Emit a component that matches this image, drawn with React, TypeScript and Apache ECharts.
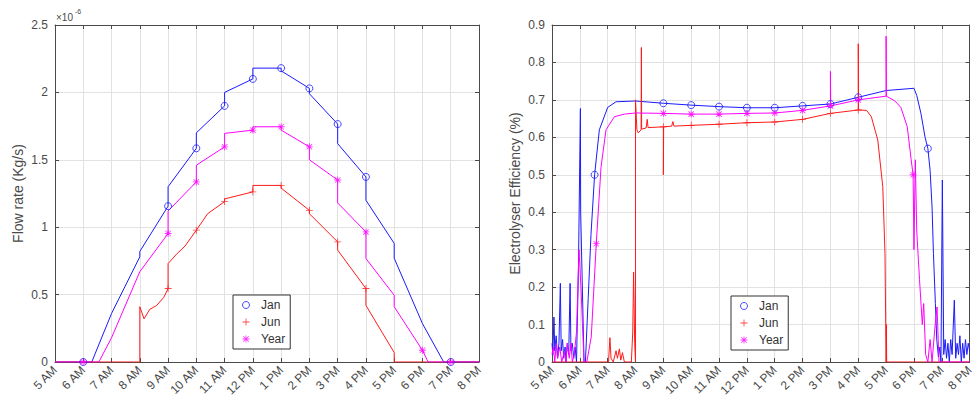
import React, { useEffect, useRef } from 'react';
import * as echarts from 'echarts';

// x axis: hours of the day (5 = 5 AM ... 20 = 8 PM)
const xTickLabels = ['5 AM', '6 AM', '7 AM', '8 AM', '9 AM', '10 AM', '11 AM', '12 PM', '1 PM', '2 PM', '3 PM', '4 PM', '5 PM', '6 PM', '7 PM', '8 PM'];
const seriesNames = ['Jan', 'Jun', 'Year'];

// Left panel: hydrogen flow rate, values in units of 1e-6 kg/s
const janFlow: [number, number][] = [
  [5, 0], [6.3, 0], [7, 0.36], [8, 0.78], [8, 0.82], [9, 1.156], [9, 1.3], [10, 1.585], [10, 1.7],
  [11, 1.9], [11, 2.0], [12, 2.1], [12, 2.18], [13, 2.18], [13, 2.16], [14, 2.03], [14, 1.99],
  [15, 1.765], [15, 1.62], [16, 1.373], [16, 1.2], [17, 0.88], [17, 0.77], [18, 0.285], [18.75, 0], [20, 0],
];
const janFlowMarkers: [number, number][] = [
  [6, 0], [9, 1.156], [10, 1.585], [11, 1.9], [12, 2.1], [13, 2.18], [14, 2.03], [15, 1.765], [16, 1.373], [19, 0],
];
const junFlow: [number, number][] = [
  [5, 0], [8, 0], [8, 0.41], [8.15, 0.32], [8.35, 0.39], [8.6, 0.42], [8.85, 0.48], [9, 0.545], [9, 0.73],
  [9.3, 0.8], [9.6, 0.86], [10, 0.978], [10.4, 1.1], [11, 1.19], [11, 1.21], [12, 1.262], [12, 1.31],
  [13, 1.31], [13, 1.29], [14, 1.125], [14, 1.1], [15, 0.891], [15, 0.83], [16, 0.545], [16, 0.42],
  [17, 0.07], [17, 0], [20, 0],
];
const junFlowMarkers: [number, number][] = [
  [9, 0.545], [10, 0.978], [11, 1.19], [12, 1.262], [13, 1.31], [14, 1.125], [15, 0.891], [16, 0.545],
];
const yearFlow: [number, number][] = [
  [5, 0], [6.55, 0], [7, 0.18], [8, 0.67], [9, 0.953], [9, 1.12], [10, 1.336], [10, 1.46], [11, 1.596],
  [11, 1.696], [12, 1.72], [12, 1.745], [13, 1.745], [13, 1.72], [14, 1.596], [14, 1.5], [15, 1.35],
  [15, 1.18], [16, 0.965], [16, 0.768], [17, 0.495], [17, 0.41], [18, 0.087], [18.2, 0], [20, 0],
];
const yearFlowMarkers: [number, number][] = [
  [6, 0], [9, 0.953], [10, 1.336], [11, 1.596], [12, 1.72], [13, 1.745], [14, 1.596], [15, 1.35], [16, 0.965], [18, 0.087], [19, 0],
];

// Right panel: electrolyser efficiency
const janEff: [number, number][] = [
  [5, 0.05], [5.03, 0.02], [5.07, 0.12], [5.1, 0.03], [5.15, 0.07], [5.2, 0.01], [5.25, 0.05], [5.3, 0.21],
  [5.33, 0.03], [5.38, 0.06], [5.42, 0.01], [5.47, 0.04], [5.5, 0], [5.55, 0.05], [5.6, 0.02], [5.65, 0.21],
  [5.68, 0.03], [5.73, 0.05], [5.78, 0.01], [5.83, 0.04], [5.88, 0], [5.95, 0.25], [6.02, 0.677], [6.03, 0.4],
  [6.15, 0], [6.2, 0], [6.3, 0.17], [6.4, 0.34], [6.53, 0.5], [6.7, 0.62], [7, 0.68], [7.3, 0.695],
  [8, 0.697], [9, 0.691], [10, 0.686], [11, 0.682], [12, 0.679], [13, 0.679], [14, 0.684], [15, 0.689],
  [16, 0.707], [17, 0.725], [18, 0.731], [18.1, 0.712], [18.25, 0.664], [18.4, 0.6], [18.5, 0.57],
  [18.58, 0.512], [18.65, 0.414], [18.7, 0.29], [18.77, 0.156], [18.82, 0.058], [18.88, 0.013], [18.93, 0.04],
  [18.97, 0], [19.02, 0.486], [19.07, 0.02], [19.12, 0.06], [19.17, 0.01], [19.22, 0.05], [19.27, 0],
  [19.32, 0.06], [19.37, 0.02], [19.45, 0.165], [19.5, 0.01], [19.55, 0.05], [19.6, 0.02], [19.65, 0.07],
  [19.7, 0], [19.75, 0.05], [19.8, 0.01], [19.85, 0.06], [19.9, 0.02], [19.95, 0.05], [20, 0.03],
];
const janEffMarkers: [number, number][] = [
  [6.53, 0.5], [9, 0.691], [10, 0.686], [11, 0.682], [12, 0.679], [13, 0.679], [14, 0.684], [15, 0.689], [16, 0.707], [18.5, 0.57],
];
const junEff: [number, number][] = [
  [5, 0], [7.03, 0], [7.08, 0.065], [7.12, 0.01], [7.2, 0], [7.3, 0.03], [7.35, 0.01], [7.42, 0.035],
  [7.47, 0.005], [7.53, 0.025], [7.6, 0], [7.85, 0], [7.9, 0.08], [7.93, 0.24], [7.97, 0.05], [8, 0],
  [8, 0.7], [8.05, 0.62], [8.1, 0.612], [8.2, 0.62], [8.21, 0.84], [8.22, 0.622], [8.38, 0.625],
  [8.42, 0.648], [8.45, 0.626], [9, 0.628], [9, 0.5], [9.01, 0.628], [9.3, 0.63], [9.34, 0.642],
  [9.38, 0.63], [10, 0.632], [11, 0.635], [12, 0.639], [13, 0.641], [14, 0.648], [15, 0.664], [16, 0.673],
  [16, 0.85], [16.01, 0.673], [16.3, 0.672], [16.47, 0.655], [16.7, 0.593], [16.88, 0.468], [16.96, 0.29],
  [17, 0], [17.01, 0.1], [17.02, 0], [20, 0],
];
const junEffMarkers: [number, number][] = [
  [9, 0.628], [10, 0.632], [11, 0.635], [12, 0.639], [13, 0.641], [14, 0.648], [15, 0.664], [16, 0.673],
];
const yearEff: [number, number][] = [
  [5, 0.02], [5.05, 0.04], [5.1, 0], [5.15, 0.05], [5.2, 0.01], [5.28, 0.04], [5.35, 0], [5.45, 0.03],
  [5.5, 0], [5.55, 0.05], [5.62, 0.01], [5.68, 0.05], [5.73, 0], [5.8, 0.02], [5.88, 0.08], [5.97, 0.3],
  [6.04, 0.2], [6.15, 0], [6.25, 0], [6.41, 0.067], [6.59, 0.316], [6.76, 0.52], [6.94, 0.62],
  [7.24, 0.655], [7.6, 0.662], [8, 0.665], [9, 0.664], [10, 0.662], [11, 0.662], [12, 0.664], [13, 0.665],
  [14, 0.672], [15, 0.684], [15, 0.776], [15.01, 0.684], [16, 0.7], [17, 0.71], [17, 0.87], [17.01, 0.71],
  [17.3, 0.698], [17.53, 0.68], [17.76, 0.628], [17.9, 0.54], [17.97, 0.5], [18, 0.3], [18.05, 0.54],
  [18.1, 0.35], [18.2, 0.22], [18.3, 0.1], [18.35, 0.156], [18.42, 0.02], [18.5, 0], [18.58, 0.06],
  [18.65, 0], [18.75, 0.09], [18.83, 0.147], [18.9, 0], [20, 0],
];
const yearEffMarkers: [number, number][] = [
  [6.59, 0.316], [9, 0.664], [10, 0.662], [11, 0.662], [12, 0.664], [13, 0.665], [14, 0.672], [15, 0.684], [16, 0.7], [17.97, 0.5],
];

const BLUE = '#1a1aff';
const RED = '#ff1a1a';
const MAGENTA = '#ff00ff';
const AXIS = '#4a4a4a';
const GRID = '#e2e2e2';
const FONT = 'Liberation Sans, Arial, sans-serif';

const PLUS = 'path://M4.4,0H5.6V4.4H10V5.6H5.6V10H4.4V5.6H0V4.4H4.4Z';
const STAR = 'path://M4.4,0H5.6V4.4H10V5.6H5.6V10H4.4V5.6H0V4.4H4.4Z M1.5,0.7L9.3,8.5L8.5,9.3L0.7,1.5Z M8.5,0.7L9.3,1.5L1.5,9.3L0.7,8.5Z';

const fmtHour = (v: number) => xTickLabels[Math.round(v - 5)] ?? '';

function xAxes(gridIndex: number) {
  const base = {
    type: 'value' as const,
    gridIndex,
    min: 5,
    max: 20,
    interval: 1,
    axisLine: { show: true, onZero: false, lineStyle: { color: AXIS, width: 1 } },
    axisTick: { show: true, inside: true, length: 4, lineStyle: { color: AXIS } },
  };
  return [
    {
      ...base,
      position: 'bottom',
      splitLine: { show: true, lineStyle: { color: GRID, width: 1 } },
      axisLabel: { rotate: 45, margin: 6, fontSize: 12, color: AXIS, fontFamily: FONT, formatter: fmtHour },
    },
    {
      ...base,
      position: 'top',
      splitLine: { show: false },
      axisLabel: { show: false },
    },
  ];
}

function yAxes(gridIndex: number, max: number, interval: number, name: string) {
  const base = {
    type: 'value' as const,
    gridIndex,
    min: 0,
    max,
    interval,
    axisLine: { show: true, onZero: false, lineStyle: { color: AXIS, width: 1 } },
    axisTick: { show: true, inside: true, length: 4, lineStyle: { color: AXIS } },
  };
  return [
    {
      ...base,
      position: 'left',
      name,
      nameLocation: 'middle',
      nameGap: 30,
      nameTextStyle: { fontSize: 14, color: AXIS, fontFamily: FONT },
      splitLine: { show: true, lineStyle: { color: GRID, width: 1 } },
      axisLabel: { margin: 7, fontSize: 12, color: AXIS, fontFamily: FONT },
    },
    {
      ...base,
      position: 'right',
      splitLine: { show: false },
      axisLabel: { show: false },
    },
  ];
}

function panelSeries(
  axisIndex: number,
  lines: [number, number][][],
  markers: [number, number][][],
) {
  const colors = [BLUE, RED, MAGENTA];
  const out: any[] = [];
  seriesNames.forEach((name, i) => {
    out.push({
      type: 'scatter',
      name,
      xAxisIndex: axisIndex,
      yAxisIndex: axisIndex,
      data: markers[i],
      symbol: i === 0 ? 'circle' : i === 1 ? PLUS : STAR,
      symbolSize: 7,
      itemStyle:
        i === 0
          ? { color: 'rgba(255,255,255,0)', borderColor: colors[i], borderWidth: 1 }
          : { color: colors[i] },
      z: 4,
      silent: true,
    });
  });
  seriesNames.forEach((name, i) => {
    out.push({
      type: 'line',
      name,
      xAxisIndex: axisIndex,
      yAxisIndex: axisIndex,
      data: lines[i],
      symbol: 'none',
      showSymbol: false,
      lineStyle: { color: colors[i], width: 1 },
      itemStyle: { color: colors[i] },
      z: 3,
      silent: true,
    });
  });
  return out;
}

function legend(left: number, top: number) {
  return {
    orient: 'vertical',
    left,
    top,
    backgroundColor: '#ffffff',
    borderColor: '#333333',
    borderWidth: 1,
    borderRadius: 0,
    padding: [4, 5, 4, 9],
    itemGap: 5,
    itemWidth: 20,
    itemHeight: 7,
    textStyle: { fontSize: 12, color: '#333333', fontFamily: FONT },
    selectedMode: false,
    data: [
      { name: 'Jan', icon: 'circle', itemStyle: { color: 'rgba(255,255,255,0)', borderColor: BLUE, borderWidth: 1 } },
      { name: 'Jun', icon: PLUS, itemStyle: { color: RED, borderWidth: 0 } },
      { name: 'Year', icon: STAR, itemStyle: { color: MAGENTA, borderWidth: 0 } },
    ],
  };
}

export default function App() {
  const ref = useRef<HTMLDivElement>(null);
  useEffect(() => {
    document.body.style.margin = '0';
    const chart = echarts.init(ref.current!, null, { renderer: 'svg' });
    const option: any = {
      animation: false,
      backgroundColor: '#ffffff',
      grid: [
        { left: 55, top: 25, width: 424, height: 337, show: false },
        { left: 552, top: 25, width: 424, height: 337, show: false },
      ],
      xAxis: [...xAxes(0), ...xAxes(1)],
      yAxis: [
        ...yAxes(0, 2.5, 0.5, 'Flow rate (Kg/s)'),
        ...yAxes(1, 0.9, 0.1, 'Electrolyser Efficiency (%)'),
      ],
      legend: [legend(233, 295), legend(731, 296)],
      series: [
        ...panelSeries(0, [janFlow, junFlow, yearFlow], [janFlowMarkers, junFlowMarkers, yearFlowMarkers]),
        ...panelSeries(2, [janEff, junEff, yearEff], [janEffMarkers, junEffMarkers, yearEffMarkers]),
      ],
      graphic: [
        { type: 'text', left: 56, top: 12, style: { text: '×10', fontSize: 10, fill: AXIS, fontFamily: FONT } },
        { type: 'text', left: 75, top: 8, style: { text: '-6', fontSize: 7, fill: AXIS, fontFamily: FONT } },
      ],
    };
    chart.setOption(option);
    return () => chart.dispose();
  }, []);
  return <div ref={ref} style={{ width: 976, height: 405 }} />;
}
